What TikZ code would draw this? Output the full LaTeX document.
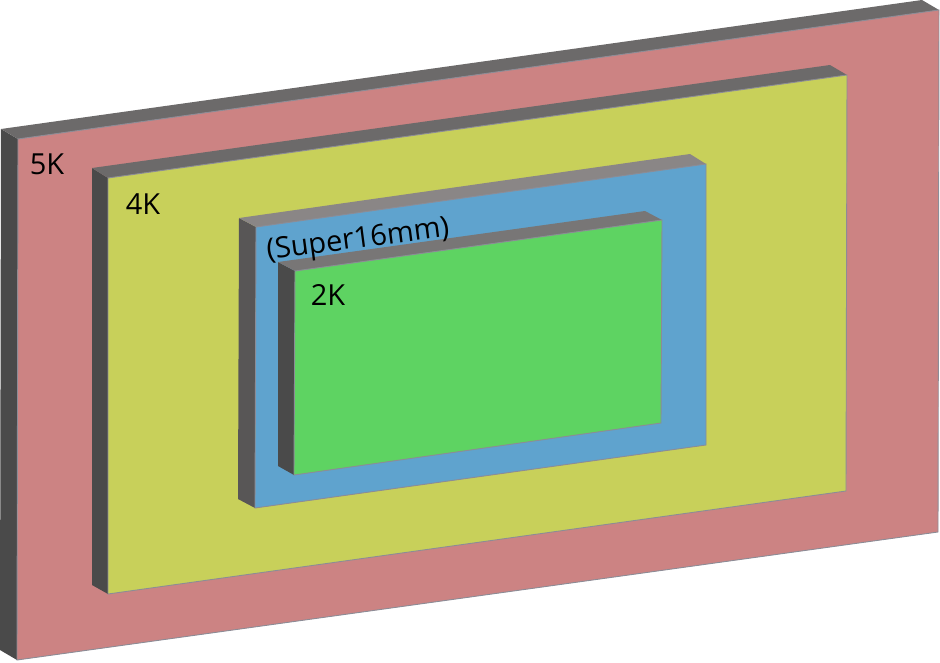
\documentclass[tikz,border=0pt]{standalone}
\usepackage{fontspec}
\setmainfont{Open Sans}
\begin{document}
\begin{tikzpicture}[x=1pt,y=-1pt,
  sideL/.style={fill=#1,draw=none},
  sideT/.style={fill=#1,draw=none},
  face/.style={fill=#1,draw={rgb,255:red,140;green,140;blue,150},line width=0.9pt,line join=miter},
  lbl/.style={font=\fontsize{29}{30}\selectfont,text=black,inner sep=0pt}]
\definecolor{c5k}{RGB}{204,131,131}
\definecolor{c4k}{RGB}{200,208,90}
\definecolor{cs16}{RGB}{95,163,206}
\definecolor{c2k}{RGB}{94,211,98}
\definecolor{gdark}{RGB}{74,74,74}
\definecolor{gmid}{RGB}{108,106,106}
\definecolor{gdark2}{RGB}{88,86,86}
\definecolor{glight}{RGB}{138,134,134}
\definecolor{gmid2}{RGB}{120,118,118}
\useasboundingbox (0,0) rectangle (940,662);
% ---------- 5K plate ----------
\coordinate (a1) at (18,139); \coordinate (a2) at (939,10);
\coordinate (a3) at (938,532); \coordinate (a4) at (17,660);
\coordinate (a1b) at (1,129); \coordinate (a2b) at (922,0);
\coordinate (a4b) at (0,650);
\fill[gdark] (a1b) -- (a1) -- (a4) -- (a4b) -- cycle;
\fill[gmid] (a1b) -- (a2b) -- (a2) -- (a1) -- cycle;
\draw[face=c5k] (a1) -- (a2) -- (a3) -- (a4) -- cycle;
% ---------- 4K plate ----------
\coordinate (b1) at (108,178); \coordinate (b2) at (847,75);
\coordinate (b3) at (846,491); \coordinate (b4) at (108,594);
\coordinate (b1b) at (92,168); \coordinate (b2b) at (830,65);
\coordinate (b4b) at (92,585);
\fill[gdark] (b1b) -- (b1) -- (b4) -- (b4b) -- cycle;
\fill[gmid] (b1b) -- (b2b) -- (b2) -- (b1) -- cycle;
\draw[face=c4k] (b1) -- (b2) -- (b3) -- (b4) -- cycle;
% ---------- Super16 plate ----------
\coordinate (c1) at (256,227); \coordinate (c2) at (706,164);
\coordinate (c3) at (706,445); \coordinate (c4) at (255,508);
\coordinate (c1b) at (239,218); \coordinate (c2b) at (690,154);
\coordinate (c4b) at (238,499);
\fill[gdark2] (c1b) -- (c1) -- (c4) -- (c4b) -- cycle;
\fill[glight] (c1b) -- (c2b) -- (c2) -- (c1) -- cycle;
\draw[face=cs16] (c1) -- (c2) -- (c3) -- (c4) -- cycle;
% ---------- 2K plate ----------
\coordinate (d1) at (295,271); \coordinate (d2) at (662,220);
\coordinate (d3) at (661,423); \coordinate (d4) at (294,475);
\coordinate (d1b) at (278,262); \coordinate (d2b) at (645,211);
\coordinate (d4b) at (278,466);
\fill[gdark] (d1b) -- (d1) -- (d4) -- (d4b) -- cycle;
\fill[gmid2] (d1b) -- (d2b) -- (d2) -- (d1) -- cycle;
\draw[face=c2k] (d1) -- (d2) -- (d3) -- (d4) -- cycle;
% ---------- labels ----------
\node[lbl] (l5k) at (47,164) {5K};
\node[lbl] (l4k) at (143,204) {4K};
\node[lbl,rotate=7.5] (ls16) at (358,241) {(Super16mm)};
\node[lbl] (l2k) at (328,295) {2K};
\end{tikzpicture}
\end{document}
